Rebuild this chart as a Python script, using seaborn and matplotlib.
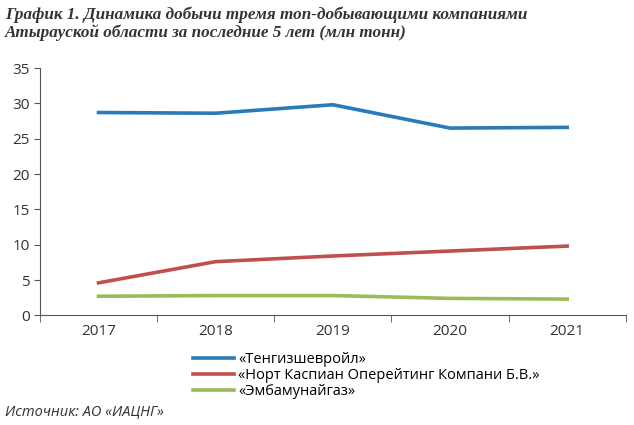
import numpy as np
import pandas as pd
import matplotlib
matplotlib.use("Agg")
import matplotlib.pyplot as plt
import seaborn as sns
from matplotlib.lines import Line2D

years = ["2017", "2018", "2019", "2020", "2021"]
tengiz = [28.7, 28.6, 29.8, 26.5, 26.6]
ncoc = [4.6, 7.6, 8.4, 9.1, 9.8]
emba = [2.7, 2.8, 2.8, 2.4, 2.3]
names = ["«Тенгизшевройл»", "«Норт Каспиан Оперейтинг Компани Б.В.»", "«Эмбамунайгаз»"]
colors = ["#2a7ab8", "#c0504d", "#9bbb59"]

rows = []
for name, vals in zip(names, [tengiz, ncoc, emba]):
    for i, v in enumerate(vals):
        rows.append({"x": i, "v": v, "company": name})
df = pd.DataFrame(rows)

plt.rcParams["font.family"] = "Open Sans"
fig = plt.figure(figsize=(6.34, 4.25), dpi=100)
ax = fig.add_axes([0.063, 0.258, 0.924, 0.582])
sns.lineplot(data=df, x="x", y="v", hue="company", palette=colors, linewidth=2.6, ax=ax, legend=False)

ax.set_xlim(-0.5, 4.5)
ax.set_ylim(0, 35)
ax.set_yticks(range(0, 36, 5))
ax.set_xticks(range(5))
ax.set_xticklabels(years, fontsize=11, color="#333333")
ax.set_xticks(np.arange(-0.5, 4.6, 1), minor=True)
ax.tick_params(axis="x", which="major", length=0, pad=6)
ax.tick_params(axis="x", which="minor", length=5, color="#555555")
ax.tick_params(axis="y", labelsize=11, labelcolor="#333333", length=4, color="#555555")
ax.set_xlabel("")
ax.set_ylabel("")
for s in ["top", "right"]:
    ax.spines[s].set_visible(False)
for s in ["left", "bottom"]:
    ax.spines[s].set_color("#555555")
    ax.spines[s].set_linewidth(0.8)

handles = [Line2D([], [], color=c, lw=2.6) for c in colors]
fig.legend(handles, names, loc="upper left", bbox_to_anchor=(0.295, 0.185), frameon=False,
           fontsize=10.5, handlelength=2.8, labelspacing=0.05, borderaxespad=0, handletextpad=0.3)

fig.text(0.008, 0.985, "График 1. Динамика добычи тремя топ-добывающими компаниями\nАтырауской области за последние 5 лет (млн тонн)",
         ha="left", va="top", fontsize=12.3, fontweight="bold", style="italic", family="Liberation Serif",
         color="#333333", linespacing=1.1)
fig.text(0.008, 0.015, "Источник: АО «ИАЦНГ»", ha="left", va="bottom", fontsize=10.5, style="italic", color="#333333")

fig.savefig("out.png", dpi=100)
